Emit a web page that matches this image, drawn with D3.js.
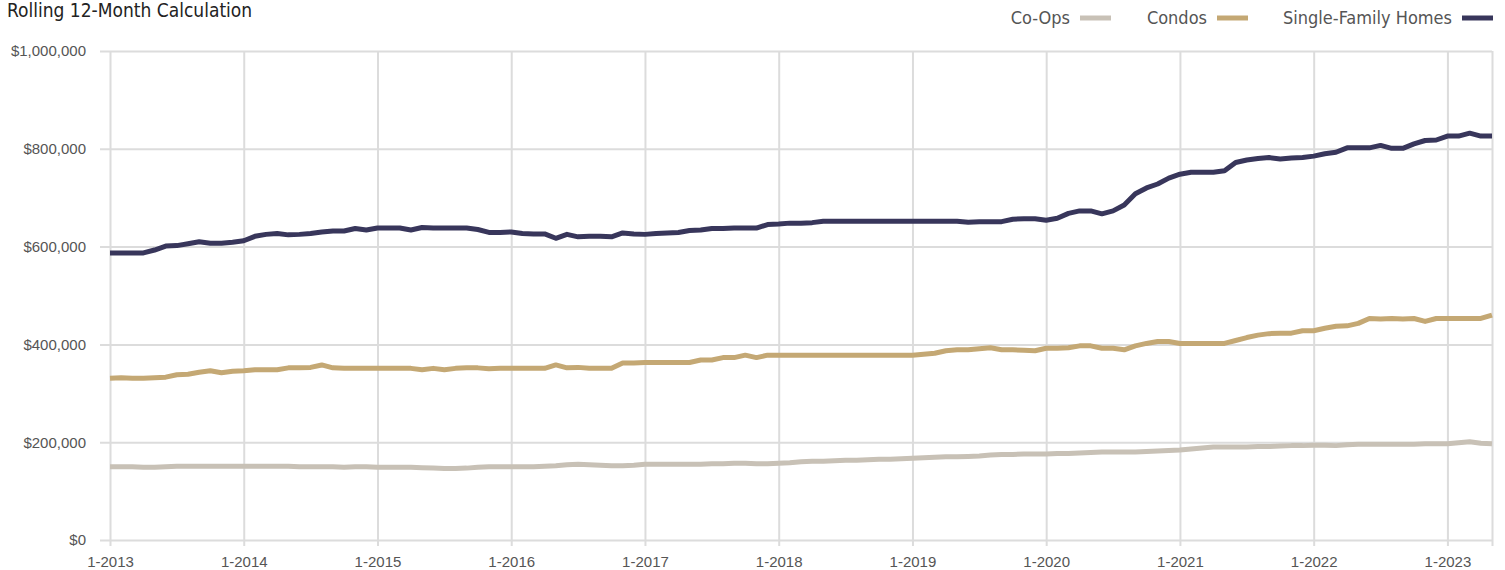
<!DOCTYPE html>
<html>
<head>
<meta charset="utf-8">
<script src="https://cdn.jsdelivr.net/npm/d3@7"></script>
<style>
  body { margin: 0; background: #fff; }
  svg { display: block; font-family: "Liberation Sans Narrow", "DejaVu Sans Condensed", "Roboto", sans-serif; }
</style>
</head>
<body>
<svg id="chart"></svg>
<script>
// monthly values, 1-2013 .. 5-2023 (in $1,000)
const coops = [
  150,150,150,149,149,150,151,151,151,151,151,151,
  151,151,151,151,151,150,150,150,150,149,150,150,
  149,149,149,149,148,147,146,146,147,149,150,150,
  150,150,150,151,152,154,155,154,153,152,152,153,
  155,155,155,155,155,155,156,156,157,157,156,156,
  157,158,160,161,161,162,163,163,164,165,165,166,
  167,168,169,170,170,171,172,174,175,175,176,176,
  176,177,177,178,179,180,180,180,180,181,182,183,
  184,186,188,190,190,190,190,191,191,192,193,193,
  194,194,193,195,196,196,196,196,196,196,197,197,
  197,199,201,198,197
];
const condos = [
  331,332,331,331,332,333,338,339,343,346,342,345,
  346,348,348,348,352,352,353,358,352,351,351,351,
  351,351,351,351,348,351,348,351,352,352,350,351,
  351,351,351,351,358,352,353,351,351,351,362,362,
  363,363,363,363,363,368,368,373,373,378,373,378,
  378,378,378,378,378,378,378,378,378,378,378,378,
  378,380,382,387,389,389,391,393,389,389,388,387,
  392,392,393,397,397,392,392,389,397,402,406,406,
  402,402,402,402,402,408,414,419,422,423,423,428,
  428,433,437,438,443,453,452,453,452,453,447,453,
  453,453,453,453,460
];
const singleFamily = [
  587,587,587,587,593,601,602,606,610,607,607,609,
  612,621,625,627,624,625,627,630,632,632,637,634,
  638,638,638,634,639,638,638,638,638,635,629,629,
  630,627,626,626,617,625,620,621,621,620,628,626,
  625,627,628,629,633,634,637,637,638,638,638,645,
  646,648,648,649,652,652,652,652,652,652,652,652,
  652,652,652,652,652,650,651,651,651,656,657,657,
  654,658,668,673,673,667,673,685,708,720,728,740,
  748,752,752,752,755,772,777,780,782,779,781,782,
  785,790,793,802,802,802,807,801,801,810,817,818,
  826,826,832,826,826
];
const seriesNames = ["Co-Ops", "Condos", "Single-Family Homes"];
const seriesColors = ["#c8c1b6", "#c4a874", "#38365b"];
const xTickMonths = [0,12,24,36,48,60,72,84,96,108,120];
const xTickLabels = ["1-2013","1-2014","1-2015","1-2016","1-2017","1-2018","1-2019","1-2020","1-2021","1-2022","1-2023"];
const yTicks = [0, 200, 400, 600, 800, 1000];

const W = 1505, H = 570;
const margin = { top: 51, right: 1492, bottom: 540, left: 110 };

const svg = d3.select("#chart").attr("width", W).attr("height", H);

const x = d3.scaleLinear().domain([0, coops.length - 1]).range([margin.left, margin.right]);
const y = d3.scaleLinear().domain([0, 1000]).range([margin.bottom, margin.top]);

const fmt = v => "$" + d3.format(",")(v * 1000);

// y axis + horizontal grid
const yAxis = svg.append("g")
  .attr("transform", "translate(" + margin.left + ",0)")
  .call(d3.axisLeft(y).tickValues(yTicks).tickFormat(fmt).tickSizeOuter(0))
  .call(g => g.select(".domain").remove());
yAxis.selectAll(".tick line")
  .attr("x1", -10).attr("x2", margin.right - margin.left)
  .attr("stroke", "#dcdcdc").attr("stroke-width", 2);
yAxis.selectAll(".tick text")
  .attr("x", -24).attr("fill", "#555").attr("font-size", 15);

// x axis + vertical grid
const xAxis = svg.append("g")
  .attr("transform", "translate(0," + margin.bottom + ")")
  .call(d3.axisBottom(x).tickValues(xTickMonths.concat([coops.length - 1]))
    .tickFormat((d, i) => xTickLabels[i] || "")
    .tickSizeOuter(0))
  .call(g => g.select(".domain").remove());
xAxis.selectAll(".tick line")
  .attr("y1", -(margin.bottom - margin.top)).attr("y2", 6)
  .attr("stroke", "#dcdcdc").attr("stroke-width", 2);
xAxis.selectAll(".tick text")
  .attr("y", 16).attr("fill", "#555").attr("font-size", 15);

// lines
const line = d3.line()
  .x((d, i) => x(i))
  .y(d => y(d));

[coops, condos, singleFamily].forEach((data, k) => {
  svg.append("path")
    .datum(data)
    .attr("fill", "none")
    .attr("stroke", seriesColors[k])
    .attr("stroke-width", 5)
    .attr("stroke-linejoin", "round")
    .attr("d", line);
});

// title
svg.append("text")
  .attr("x", 7).attr("y", 17)
  .attr("font-size", 19).attr("fill", "#222")
  .text("Rolling 12-Month Calculation");

// legend
const legendSwatchX = [1080, 1217, 1462];
const legend = svg.append("g");
seriesNames.forEach((name, k) => {
  legend.append("text")
    .attr("x", legendSwatchX[k] - 10).attr("y", 24)
    .attr("text-anchor", "end")
    .attr("font-size", 18).attr("fill", "#555")
    .text(name);
  legend.append("line")
    .attr("x1", legendSwatchX[k]).attr("x2", legendSwatchX[k] + 31)
    .attr("y1", 18).attr("y2", 18)
    .attr("stroke", seriesColors[k]).attr("stroke-width", 5);
});
</script>
</body>
</html>
